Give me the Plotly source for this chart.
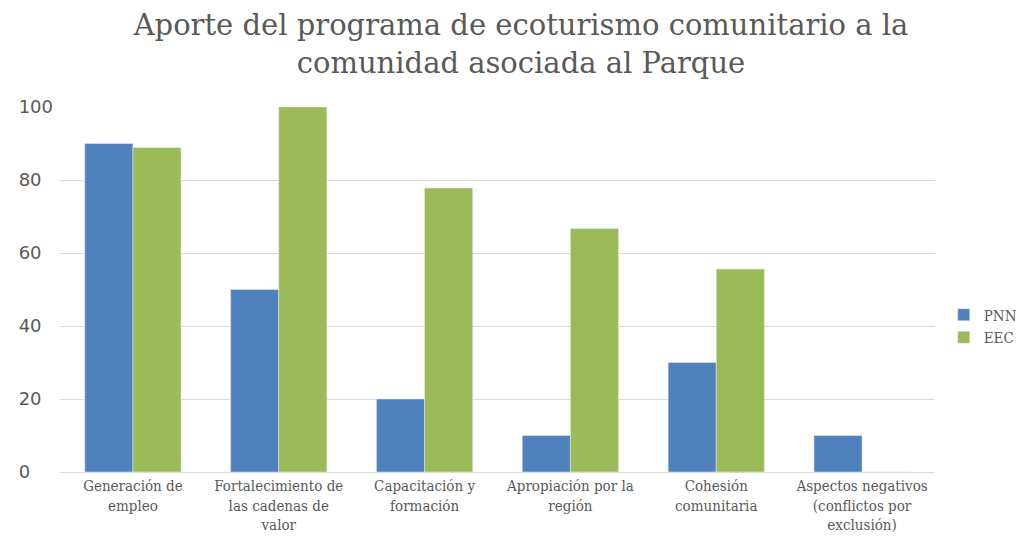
import plotly.graph_objects as go

categories = [
    "Generación de<br>empleo",
    "Fortalecimiento de<br>las cadenas de<br>valor",
    "Capacitación y<br>formación",
    "Apropiación por la<br>región",
    "Cohesión<br>comunitaria",
    "Aspectos negativos<br>(conflictos por<br>exclusión)",
]
pnn = [90, 50, 20, 10, 30, 10]
eec = [88.9, 100, 77.8, 66.7, 55.6, 0]
y_ticks = [0, 20, 40, 60, 80, 100]
y_ticktext = [str(v).ljust(3, "\u2007") for v in y_ticks]

fig = go.Figure()
fig.add_trace(go.Bar(name="PNN", x=categories, y=pnn, marker_color="#4F81BD"))
fig.add_trace(go.Bar(name="EEC", x=categories, y=eec, marker_color="#9BBB59"))

fig.update_layout(
    width=1026, height=546,
    paper_bgcolor="white", plot_bgcolor="white",
    barmode="group", bargap=0.34, bargroupgap=0,
    margin=dict(l=52, r=99, t=99, b=82),
    title=dict(
        text="Aporte del programa de ecoturismo comunitario a la<br>comunidad asociada al Parque",
        x=0.5, xref="container", xanchor="center", y=0.95, yanchor="top",
        font=dict(family="DejaVu Serif", size=29, color="#595959"),
    ),
    font=dict(family="DejaVu Serif Condensed", color="#595959"),
    legend=dict(
        x=1.01, y=0.40, xanchor="left", yanchor="middle",
        font=dict(family="DejaVu Serif Condensed", size=15, color="#595959"),
        itemwidth=30, tracegroupgap=0,
    ),
    showlegend=True,
)
fig.update_xaxes(
    showgrid=False, showline=True, linecolor="#D9D9D9", linewidth=1,
    tickfont=dict(family="DejaVu Serif Condensed", size=15, color="#595959"),
    ticks="", automargin=False,
)
fig.update_yaxes(
    range=[0, 100], tickvals=y_ticks, ticktext=y_ticktext,
    showgrid=True, gridcolor="#D9D9D9",
    zeroline=False, showline=False,
    tickfont=dict(family="DejaVu Sans", size=18, color="#595959"),
    ticklabelstandoff=6, automargin=False,
)
fig.write_html("out.html")
